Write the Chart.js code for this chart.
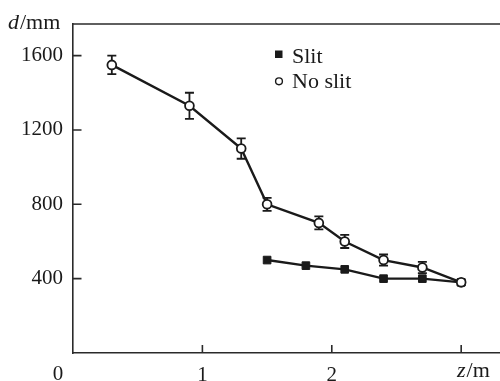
<!DOCTYPE html>
<html>
<head>
<meta charset="utf-8">
<script src="https://cdn.jsdelivr.net/npm/chart.js@4/dist/chart.umd.min.js"></script>
<style>
  html, body { margin: 0; padding: 0; background: #fff; }
  #wrap { width: 500px; height: 381px; }
</style>
</head>
<body>
<div id="wrap"><canvas id="c" width="500" height="381"></canvas></div>
<script>
// ---- data ----
const noSlitZ   = [0.3, 0.9, 1.3, 1.5, 1.9, 2.1, 2.4, 2.7, 3.0];
const noSlitD   = [1550, 1330, 1100, 800, 700, 600, 500, 460, 380];
const noSlitErr = [50, 70, 55, 35, 35, 35, 30, 30, 15];
const slitZ     = [1.5, 1.8, 2.1, 2.4, 2.7, 3.0];
const slitD     = [500, 470, 450, 400, 400, 380];
const xTicks    = [1, 2, 3];
const yTicks    = [400, 800, 1200, 1600];
const seriesNames = ['Slit', 'No slit'];

const FONT = "'Liberation Serif', 'Times New Roman', serif";
const INK = '#1a1a1a';
const AXIS = '#2a2a2a';

const toPts = (xs, ys) => xs.map((x, i) => ({ x: x, y: ys[i] }));

const errorBars = {
  id: 'errorBars',
  beforeDatasetsDraw(chart) {
    const ctx = chart.ctx, xs = chart.scales.x, ys = chart.scales.y;
    ctx.save();
    ctx.strokeStyle = INK;
    ctx.lineWidth = 1.8;
    noSlitZ.forEach((z, i) => {
      const px = xs.getPixelForValue(z);
      const top = ys.getPixelForValue(noSlitD[i] + noSlitErr[i]);
      const bot = ys.getPixelForValue(noSlitD[i] - noSlitErr[i]);
      ctx.beginPath();
      ctx.moveTo(px, top); ctx.lineTo(px, bot);
      ctx.moveTo(px - 4.5, top); ctx.lineTo(px + 4.5, top);
      ctx.moveTo(px - 4.5, bot); ctx.lineTo(px + 4.5, bot);
      ctx.stroke();
    });
    ctx.restore();
  }
};

const decor = {
  id: 'decor',
  afterDraw(chart) {
    const ctx = chart.ctx, xs = chart.scales.x, ys = chart.scales.y;
    const a = chart.chartArea;
    ctx.save();
    // top frame line
    ctx.strokeStyle = AXIS;
    ctx.lineWidth = 1.6;
    ctx.beginPath();
    ctx.moveTo(a.left, a.top); ctx.lineTo(chart.width, a.top);
    ctx.stroke();
    // inward ticks
    ctx.lineWidth = 1.6;
    ctx.beginPath();
    yTicks.forEach(v => {
      const py = ys.getPixelForValue(v);
      ctx.moveTo(a.left, py); ctx.lineTo(a.left + 8.5, py);
    });
    xTicks.forEach(v => {
      const px = xs.getPixelForValue(v);
      ctx.moveTo(px, a.bottom); ctx.lineTo(px, a.bottom - 8);
    });
    ctx.stroke();

    // axis titles and origin label
    ctx.fillStyle = INK;
    ctx.textBaseline = 'alphabetic';
    ctx.font = '21px ' + FONT;
    ctx.textAlign = 'center';
    ctx.fillText('0', 58, 380);
    // z/m
    ctx.textAlign = 'left';
    let x = 457;
    ctx.font = 'italic 22px ' + FONT;
    ctx.fillText('z', x, 377);
    x += ctx.measureText('z').width + 1;
    ctx.font = '22px ' + FONT;
    ctx.fillText('/m', x, 377);
    // d/mm
    x = 8;
    ctx.font = 'italic 22px ' + FONT;
    ctx.fillText('d', x, 29);
    x += ctx.measureText('d').width + 1;
    ctx.font = '22px ' + FONT;
    ctx.fillText('/mm', x, 29);

    // legend
    ctx.fillStyle = INK;
    ctx.fillRect(275, 50.5, 7.5, 7.5);
    ctx.beginPath();
    ctx.arc(279, 81.3, 3.4, 0, Math.PI * 2);
    ctx.fillStyle = '#fff';
    ctx.fill();
    ctx.lineWidth = 1.4;
    ctx.strokeStyle = INK;
    ctx.stroke();
    ctx.fillStyle = INK;
    ctx.font = '22px ' + FONT;
    ctx.fillText(seriesNames[0], 292, 62.5);
    ctx.fillText(seriesNames[1], 292, 88);
    ctx.restore();
  }
};

new Chart(document.getElementById('c'), {
  type: 'line',
  data: {
    datasets: [
      {
        label: seriesNames[1],
        data: toPts(noSlitZ, noSlitD),
        borderColor: INK,
        borderWidth: 2.4,
        pointStyle: 'circle',
        pointRadius: 4.4,
        pointBackgroundColor: '#fff',
        pointBorderColor: INK,
        pointBorderWidth: 1.8,
        tension: 0,
        order: 0
      },
      {
        label: seriesNames[0],
        data: toPts(slitZ, slitD),
        borderColor: INK,
        borderWidth: 2.4,
        pointStyle: 'rect',
        pointRadius: 5.4,
        pointBackgroundColor: INK,
        pointBorderColor: INK,
        pointBorderWidth: 1,
        tension: 0,
        order: 1
      }
    ]
  },
  options: {
    responsive: false,
    animation: false,
    devicePixelRatio: 1,
    layout: { autoPadding: false, padding: { top: 24, right: 0, left: 0, bottom: 0 } },
    plugins: { legend: { display: false }, tooltip: { enabled: false } },
    scales: {
      x: {
        type: 'linear',
        min: 0, max: 3.3,
        afterBuildTicks: s => { s.ticks = xTicks.map(v => ({ value: v })); },
        afterFit: s => { s.height = 28; s.paddingLeft = 0; s.paddingRight = 0; },
        grid: { display: false, drawTicks: false },
        border: { display: true, color: AXIS, width: 1.6 },
        ticks: {
          padding: 10,
          color: INK,
          font: { family: FONT, size: 21 },
          maxRotation: 0,
          callback: v => (v === 3 ? '' : String(v))
        }
      },
      y: {
        type: 'linear',
        min: 0, max: 1770,
        afterBuildTicks: s => { s.ticks = yTicks.map(v => ({ value: v })); },
        afterFit: s => { s.width = 73; s.paddingTop = 0; s.paddingBottom = 0; },
        grid: { display: false, drawTicks: false },
        border: { display: true, color: AXIS, width: 1.6 },
        ticks: {
          padding: 10,
          color: INK,
          font: { family: FONT, size: 21 },
          callback: v => String(v)
        }
      }
    }
  },
  plugins: [errorBars, decor]
});
</script>
</body>
</html>
